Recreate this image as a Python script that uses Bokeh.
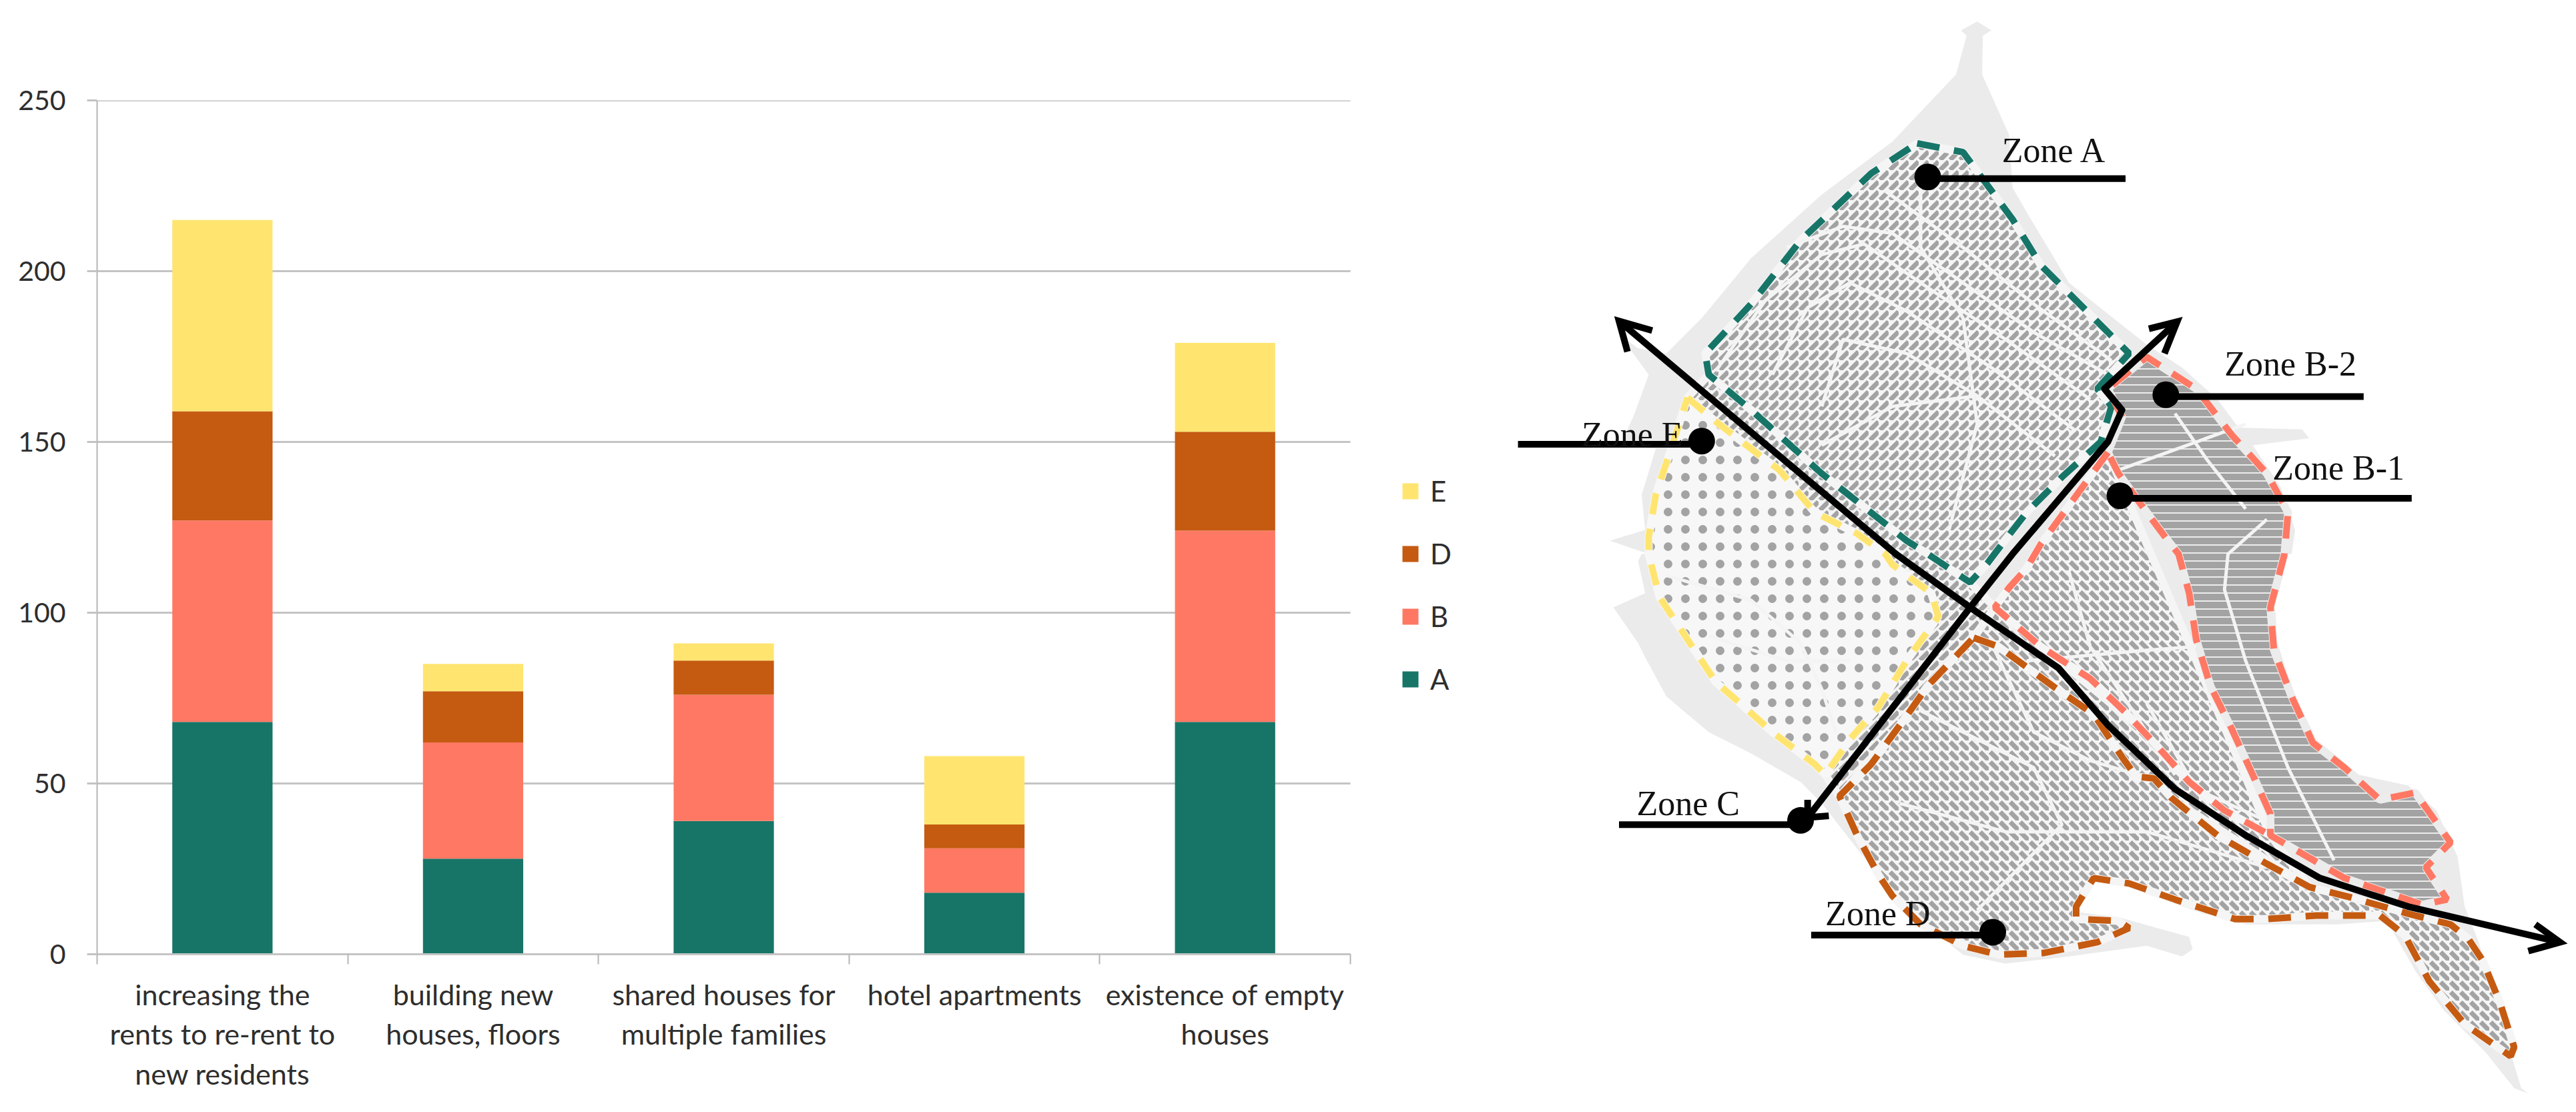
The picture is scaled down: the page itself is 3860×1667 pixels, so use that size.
from bokeh.plotting import figure
from bokeh.layouts import row
from bokeh.models import Range1d, FixedTicker, Legend, LegendItem
from bokeh.core.properties import value
from bokeh.embed import file_html
from bokeh.resources import INLINE

categories = ["increasing the\nrents to re-rent to\nnew residents", "building new\nhouses, floors",
              "shared houses for\nmultiple families", "hotel apartments", "existence of empty\nhouses"]
A = [68, 28, 39, 18, 68]
B = [59, 34, 37, 13, 56]
D = [32, 15, 10, 7, 29]
E = [56, 8, 5, 20, 26]
series_names = ["A", "B", "D", "E"]
series_colors = ["#177568", "#FF7864", "#C55A11", "#FFE570"]
y_ticks = [0, 50, 100, 150, 200, 250]
TXT = "#2e2e2e"

# ---- chart: the frame runs on to the figure's right edge so that the legend can sit inside it
N = len(categories)
p = figure(width=2200, height=1651, x_range=Range1d(0, N * 2055 / 1878), y_range=Range1d(0, 250),
           output_backend="svg", toolbar_location=None, min_border_left=145, min_border_right=0,
           min_border_top=150, min_border_bottom=221, outline_line_color=None, frame_align=False)
xs = [i + 0.5 for i in range(N)]
data = dict(x=xs, A=A, B=B, D=D, E=E)
p.xgrid.visible = False
p.ygrid.visible = False
p.segment([0] * len(y_ticks), y_ticks, [N] * len(y_ticks), y_ticks, line_color="#c4c4c4", line_width=3)
rs = p.vbar_stack(series_names, x="x", width=0.4, color=series_colors, source=data, line_color=None)
xa, ya = p.xaxis[0], p.yaxis[0]
xa.bounds = (0, N)
xa.ticker = FixedTicker(ticks=xs, minor_ticks=list(range(N + 1)))
xa.major_label_overrides = {x: c for x, c in zip(xs, categories)}
xa.major_tick_line_color = None
xa.minor_tick_in = 0
xa.minor_tick_out = 15
xa.minor_tick_line_color = "#b5b5b5"
xa.minor_tick_line_width = 2
xa.axis_line_color = "#c4c4c4"
xa.axis_line_width = 3
xa.major_label_text_font = "Lato"
xa.major_label_text_font_size = "43px"
xa.major_label_text_color = TXT
xa.major_label_text_line_height = 1.17
xa.major_label_standoff = 19
ya.ticker = FixedTicker(ticks=y_ticks)
ya.minor_tick_line_color = None
ya.major_tick_in = 0
ya.major_tick_out = 15
ya.major_tick_line_color = "#c4c4c4"
ya.major_tick_line_width = 3
ya.axis_line_color = "#b5b5b5"
ya.axis_line_width = 2
ya.major_label_text_font = "Lato"
ya.major_label_text_font_size = "41px"
ya.major_label_text_color = TXT
ya.major_label_standoff = 32
items = [LegendItem(label=n, renderers=[r]) for n, r in zip(series_names[::-1], rs[::-1])]
leg = Legend(items=items, location=(1953, 387), padding=0, margin=0, spacing=44, glyph_width=30, glyph_height=30,
             label_height=30, label_standoff=15, label_text_font="Lato", label_text_font_size="42px",
             label_text_color=TXT, border_line_color=None, background_fill_alpha=0)
p.add_layout(leg, "center")

# ---- map: geometry is given in two reference crops
def t3(pts):
    return [(2200 + x / 0.9446, y / 1.889) for x, y in pts]
def t4(pts):
    return [(2200 + x / 0.9446, 830 + y / 1.873) for x, y in pts]
def XY(pts):
    return [a for a, _ in pts], [b for _, b in pts]

land = (t3([(720, 60), (740, 85), (728, 100), (727, 210), (765, 380), (770, 530), (790, 600), (850, 800), (900, 880),
            (960, 975), (1010, 1040), (1060, 1130), (1090, 1210), (1180, 1215), (1190, 1240), (1110, 1260), (1150, 1380),
            (1170, 1500), (1165, 1568)])
        + t4([(1150, 0), (1140, 100), (1145, 250), (1170, 400), (1200, 520), (1260, 620), (1330, 650), (1370, 720),
              (1400, 850), (1410, 990), (1430, 1090), (1460, 1300), (1490, 1500), (1500, 1515), (1480, 1500), (1440, 1400),
              (1380, 1280), (1340, 1170), (1300, 1030), (1230, 1040), (1100, 1040), (1040, 1010), (940, 940), (885, 900),
              (860, 960), (860, 1005), (920, 1020), (1020, 1075), (1025, 1110), (1010, 1130), (960, 1100), (850, 1130),
              (760, 1150), (700, 1125), (660, 1060), (620, 990), (590, 920), (555, 840), (500, 700), (470, 640), (400, 560),
              (340, 500), (280, 400), (250, 290), (240, 250), (205, 150), (250, 110), (240, 20), (245, 0)])
        + t3([(255, 1568), (200, 1530), (250, 1500), (245, 1400), (265, 1270), (215, 1260), (235, 1170), (255, 1060),
              (215, 950), (240, 985), (280, 1000), (330, 900), (400, 730), (500, 550), (600, 400), (690, 210), (705, 100), (697, 85)]))
zone_a = (t3([(635, 405), (700, 430), (770, 620), (810, 750), (900, 930), (935, 1000), (890, 1100), (910, 1150),
              (895, 1250), (840, 1350), (790, 1450), (755, 1540)])
          + t4([(735, 25), (710, 80), (650, 0)])
          + t3([(620, 1530), (500, 1340), (400, 1160), (340, 1060), (335, 1000), (400, 860), (470, 680), (570, 490), (635, 405)]))
zone_b2 = (t3([(925, 1180), (905, 1100), (960, 1010), (1030, 1100), (1080, 1230), (1130, 1340), (1160, 1450), (1155, 1568)])
           + t4([(1155, 0), (1135, 150), (1140, 270), (1165, 400), (1195, 530), (1240, 600), (1290, 690), (1340, 670),
                 (1390, 810), (1355, 880), (1385, 970), (1350, 985), (1240, 910), (1135, 790), (1135, 730), (1110, 620),
                 (1080, 490), (1050, 370), (1030, 240), (1020, 110), (1005, 0)])
           + t3([(990, 1530), (960, 1450), (920, 1340), (905, 1280)]))
zone_b1 = (t3([(905, 1280), (810, 1540)])
           + t4([(790, 40), (765, 95), (745, 150), (810, 260), (880, 350), (930, 445), (975, 540), (1020, 640), (1070, 720), (1135, 790)]))
zone_d = t4([(715, 235), (750, 260), (830, 375), (885, 450), (925, 570), (945, 625), (970, 630), (995, 685), (1060, 790),
             (1130, 870), (1190, 935), (1250, 965), (1330, 1010), (1390, 1040), (1415, 1080), (1435, 1140), (1460, 1260),
             (1480, 1385), (1475, 1410), (1410, 1320), (1360, 1200), (1325, 1070), (1290, 1015), (1200, 1015), (1130, 1025),
             (1085, 1025), (1000, 970), (935, 925), (885, 910), (880, 925), (860, 990), (860, 1025), (920, 1030), (935, 1050),
             (890, 1090), (815, 1120), (750, 1125), (700, 1100), (640, 1040), (600, 960), (580, 900), (550, 790), (525, 680),
             (570, 590), (620, 455), (650, 370), (715, 235)])
zone_e = (t3([(310, 1125), (345, 1185), (400, 1270), (440, 1330), (490, 1450), (550, 1510), (590, 1568)])
          + t4([(600, 30), (655, 110), (665, 175), (620, 300), (580, 430), (540, 520), (505, 620), (490, 590), (430, 500),
                (385, 420), (350, 360), (320, 270), (270, 120), (255, 0)])
          + t3([(255, 1520), (265, 1400), (285, 1280), (310, 1125)]))
gap_west = t3([(310, 1125), (340, 1060), (650, 1568)]) + t4([(710, 80), (745, 150), (715, 235), (525, 680), (505, 620), (255, 0)])
gap_east = t4([(745, 150), (1135, 790), (1190, 935), (945, 625), (715, 235)])
road_1 = t3([(213, 908), (605, 1568)]) + t4([(710, 150), (835, 320), (905, 480), (1000, 660), (1100, 790), (1205, 910), (1330, 990), (1545, 1090)])
road_2 = t3([(1003, 910), (900, 1100), (925, 1160), (905, 1250), (770, 1568)]) + t4([(710, 150), (480, 740)])
heads = [t3([(225, 995), (213, 908), (260, 935)]), t3([(963, 930), (1003, 910), (985, 1000)]),
         t4([(1510, 1040), (1545, 1090), (1500, 1115)]), t4([(480, 690), (480, 740), (510, 735)])]
streets = [t3([(350, 1050), (420, 850), (500, 720), (560, 690), (640, 800), (760, 960), (880, 1130)]),
           t3([(430, 1060), (480, 870), (540, 800), (620, 880), (740, 1040), (860, 1220)]),
           t3([(500, 1150), (530, 960), (620, 1000), (720, 1120), (830, 1290)]),
           t3([(450, 700), (530, 640), (600, 660), (700, 800), (800, 940), (905, 1060)]),
           t3([(590, 540), (700, 700), (800, 860), (910, 1020)]),
           t3([(640, 530), (640, 700), (700, 900), (720, 1200), (680, 1500)]),
           t3([(500, 1260), (600, 1150), (720, 1120)]),
           t4([(280, 60), (400, 130), (470, 250), (500, 380), (520, 500)]),
           t4([(340, 230), (450, 300), (540, 300)]),
           t4([(640, 440), (800, 600), (840, 760), (720, 1000)]),
           t4([(740, 250), (800, 500), (880, 580), (980, 640)]),
           t4([(610, 700), (760, 780), (960, 780), (1130, 880)]),
           t4([(850, 50), (880, 260), (1000, 620)]),
           t4([(790, 300), (960, 270), (1030, 260)]),
           t4([(960, 420), (1030, 660), (1130, 750)]),
           t3([(1000, 1170), (1045, 1300), (1100, 1440)]),
           t3([(1130, 1470), (1075, 1568)]) + t4([(1070, 100), (1100, 300), (1160, 600), (1225, 860)]),
           t3([(920, 1330), (1100, 1200)])]
zone_labels = ["Zone A", "Zone B-2", "Zone B-1", "Zone E", "Zone C", "Zone D"]
dots = t3([(650, 500), (987, 1117), (922, 1403), (330, 1248)]) + t4([(470, 748), (742, 1062)])
leader_ends = t3([(930, 505), (1267, 1122), (1335, 1410), (70, 1257)]) + t4([(213, 760), (485, 1070)])
label_pos = t3([(755, 425), (1070, 1030), (1138, 1325), (160, 1230)]) + t4([(238, 700), (505, 1010)])

m = figure(width=1652, height=1651, x_range=Range1d(2200, 3852), y_range=Range1d(1651, 0), output_backend="svg",
           toolbar_location=None, min_border=0, outline_line_color=None, frame_align=False)
m.axis.visible = False
m.grid.visible = False
lx, ly = XY(land)
m.patch(lx, ly, fill_color="#ebebeb", line_color=None)
BLD = "#a3a3a3"
for poly, pat, sc, w, bg in [(gap_west, "right_diagonal_dash", 15, 7, "#f4f4f4"),
                             (gap_east, "left_diagonal_dash", 15, 7, "#f4f4f4"),
                             (zone_a, "right_diagonal_dash", 15, 7, "#f5f5f5"),
                             (zone_e, "dot", 26, 8, "#f7f7f7"),
                             (zone_d, "left_diagonal_dash", 15, 7, "#f5f5f5"),
                             (zone_b1, "left_diagonal_dash", 15, 7, "#f5f5f5"),
                             (zone_b2, "horizontal_line", 12, 10, "#ececec")]:
    x, y = XY(poly)
    m.patch(x, y, fill_color=bg, line_color=bg, line_width=12, hatch_pattern=pat, hatch_scale=sc, hatch_weight=w, hatch_color=BLD)
sx = [XY(s)[0] for s in streets]
sy = [XY(s)[1] for s in streets]
m.multi_line(sx, sy, line_color="#f4f4f4", line_width=5)
for poly, col, dash in [(zone_e, series_colors[3], "32 22"), (zone_a, series_colors[0], "34 22"),
                        (zone_d, series_colors[2], "34 22"), (zone_b2, series_colors[1], "34 22"),
                        (zone_b1, series_colors[1], "34 22")]:
    x, y = XY(poly)
    m.line(x, y, line_color=col, line_width=10, line_dash=dash)
for r in (road_1, road_2):
    x, y = XY(r)
    m.line(x, y, line_color="black", line_width=10, line_join="round")
for h in heads:
    x, y = XY(h)
    m.line(x, y, line_color="black", line_width=10, line_join="miter")
dx, dy = XY(dots)
ex, ey = XY(leader_ends)
m.segment(dx, ey, ex, ey, line_color="black", line_width=10)
m.circle(dx, dy, radius=20, fill_color="black", line_color=None)
tx, ty = XY(label_pos)
m.text(tx, ty, text=zone_labels, text_font=value("Liberation Serif"), text_font_size="52px", text_color="#111111",
       text_align="left", text_baseline="middle")

open("out.html", "w").write(file_html(row(p, m, spacing=0), INLINE))
